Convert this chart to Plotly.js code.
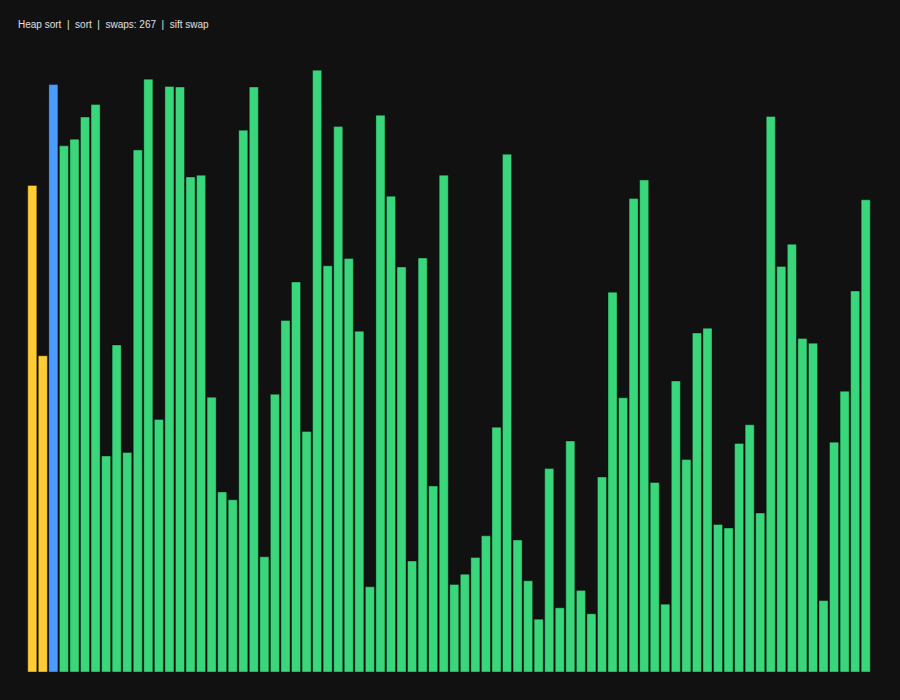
<!DOCTYPE html>
<html>
<head>
<meta charset="utf-8">
<script src="https://cdn.plot.ly/plotly-3.0.1.min.js"></script>
<style>
  html, body { margin: 0; padding: 0; background: #111111; }
  #chart { width: 900px; height: 700px; }
</style>
</head>
<body>
<div id="chart"></div>
<script>
// Bar values (array state during heap sort)
const values = [
  81.1, 52.7, 97.9, 87.7, 88.8, 92.5, 94.6, 36.0, 54.5, 36.6,
  87.0, 98.8, 42.1, 97.6, 97.5, 82.5, 82.8, 45.8, 30.0, 28.7,
  90.3, 97.5, 19.2, 46.3, 58.6, 65.0, 40.1, 100.3, 67.7, 90.9,
  68.9, 56.8, 14.2, 92.8, 79.3, 67.5, 18.5, 69.0, 31.0, 82.8,
  14.6, 16.3, 19.1, 22.7, 40.8, 86.3, 22.0, 15.2, 8.8, 33.9,
  10.7, 38.5, 13.6, 9.7, 32.5, 63.3, 45.7, 78.9, 82.0, 31.6,
  11.3, 48.5, 35.4, 56.5, 57.3, 24.6, 24.0, 38.1, 41.2, 26.5,
  92.6, 67.6, 71.3, 55.6, 54.8, 11.9, 38.3, 46.8, 63.5, 78.7
];
// Highlight state per index: swapped pair (yellow), active (blue)
const swapIdx = [0, 1];
const activeIdx = [2];

const algorithm = "Heap sort";
const phase = "sort";
const swaps = 267;
const action = "sift swap";

const COLORS = { normal: "#3ad67b", swap: "#ffcc33", active: "#4a9dff" };

const indices = values.map((_, i) => i);
const colors = values.map((_, i) =>
  swapIdx.includes(i) ? COLORS.swap : (activeIdx.includes(i) ? COLORS.active : COLORS.normal));

const sep = "\u00a0\u00a0|\u00a0\u00a0";
const titleText = algorithm + sep + phase + sep + "swaps: " + swaps + sep + action;

const trace = {
  type: "bar",
  x: indices,
  y: values,
  marker: { color: colors, line: { color: "rgba(0,0,0,0.35)", width: 1 } },
  hoverinfo: "skip"
};

const layout = {
  width: 900,
  height: 700,
  paper_bgcolor: "#111111",
  plot_bgcolor: "#111111",
  margin: { l: 27, r: 29, t: 60, b: 28, pad: 0 },
  bargap: 0.14,
  showlegend: false,
  title: {
    text: titleText,
    x: 18 / 900, xref: "container", xanchor: "left",
    y: 1 - 24 / 700, yref: "container", yanchor: "middle",
    font: { family: "Liberation Sans, Arial, sans-serif", size: 10, color: "#e0e0e0" }
  },
  xaxis: {
    range: [-0.5, values.length - 0.5],
    showgrid: false, zeroline: false, showticklabels: false, ticks: "", showline: false
  },
  yaxis: {
    range: [0, 102],
    showgrid: false, zeroline: false, showticklabels: false, ticks: "", showline: false
  }
};

Plotly.newPlot("chart", [trace], layout, { staticPlot: true, displayModeBar: false });
</script>
</body>
</html>
